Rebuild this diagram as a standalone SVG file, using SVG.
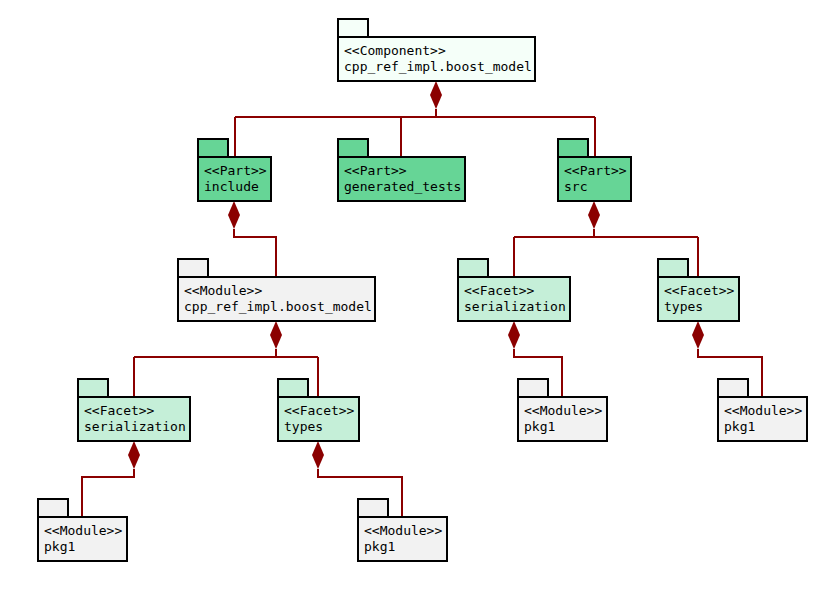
<svg xmlns="http://www.w3.org/2000/svg" width="835" height="589" viewBox="0 0 835 589">
<defs>
<style>
.b{stroke:#000;stroke-width:2}
.comp{fill:#f5fff9}
.part{fill:#66d596}
.facet{fill:#c5efd8}
.mod{fill:#f2f2f2}
text{font-family:"DejaVu Sans Mono",monospace;font-size:13px;fill:#000}
.c{fill:none;stroke:#8b0000;stroke-width:2}
.d{fill:#8b0000;stroke:none}
</style>
</defs>
<rect width="835" height="589" fill="#fff"/>
<g id="connectors">
<path class="c" d="M436,109V117M235,117H595M235,117V157M401,117V157M595,117V157"/>
<path class="d" d="M436,81L442,95L436,109L430,95Z"/>
<path class="c" d="M234,229V237H276V277"/>
<path class="d" d="M234,201L240,215L234,229L228,215Z"/>
<path class="c" d="M594,229V237M514,237H698M514,237V277M698,237V277"/>
<path class="d" d="M594,201L600,215L594,229L588,215Z"/>
<path class="c" d="M276,349V357M134,357H318M134,357V397M318,357V397"/>
<path class="d" d="M276,321L282,335L276,349L270,335Z"/>
<path class="c" d="M134,469V477H82V517"/>
<path class="d" d="M134,441L140,455L134,469L128,455Z"/>
<path class="c" d="M318,469V477H402V517"/>
<path class="d" d="M318,441L324,455L318,469L312,455Z"/>
<path class="c" d="M514,349V357H562V397"/>
<path class="d" d="M514,321L520,335L514,349L508,335Z"/>
<path class="c" d="M698,349V357H762V397"/>
<path class="d" d="M698,321L704,335L698,349L692,335Z"/>
</g>
<g id="component">
<rect class="b comp" x="338" y="19" width="30" height="18"/>
<rect class="b comp" x="338" y="37" width="197" height="44"/>
<text x="344" y="55">&lt;&lt;Component&gt;&gt;</text>
<text x="344" y="71">cpp_ref_impl.boost_model</text>
</g>
<g id="part_include">
<rect class="b part" x="198" y="139" width="30" height="18"/>
<rect class="b part" x="198" y="157" width="73" height="44"/>
<text x="204" y="175">&lt;&lt;Part&gt;&gt;</text>
<text x="204" y="191">include</text>
</g>
<g id="part_generated_tests">
<rect class="b part" x="338" y="139" width="30" height="18"/>
<rect class="b part" x="338" y="157" width="127" height="44"/>
<text x="344" y="175">&lt;&lt;Part&gt;&gt;</text>
<text x="344" y="191">generated_tests</text>
</g>
<g id="part_src">
<rect class="b part" x="558" y="139" width="30" height="18"/>
<rect class="b part" x="558" y="157" width="73" height="44"/>
<text x="564" y="175">&lt;&lt;Part&gt;&gt;</text>
<text x="564" y="191">src</text>
</g>
<g id="module_boost_model">
<rect class="b mod" x="178" y="259" width="30" height="18"/>
<rect class="b mod" x="178" y="277" width="197" height="44"/>
<text x="184" y="295">&lt;&lt;Module&gt;&gt;</text>
<text x="184" y="311">cpp_ref_impl.boost_model</text>
</g>
<g id="facet_src_serialization">
<rect class="b facet" x="458" y="259" width="30" height="18"/>
<rect class="b facet" x="458" y="277" width="112" height="44"/>
<text x="464" y="295">&lt;&lt;Facet&gt;&gt;</text>
<text x="464" y="311">serialization</text>
</g>
<g id="facet_src_types">
<rect class="b facet" x="658" y="259" width="30" height="18"/>
<rect class="b facet" x="658" y="277" width="81" height="44"/>
<text x="664" y="295">&lt;&lt;Facet&gt;&gt;</text>
<text x="664" y="311">types</text>
</g>
<g id="facet_inc_serialization">
<rect class="b facet" x="78" y="379" width="30" height="18"/>
<rect class="b facet" x="78" y="397" width="112" height="44"/>
<text x="84" y="415">&lt;&lt;Facet&gt;&gt;</text>
<text x="84" y="431">serialization</text>
</g>
<g id="facet_inc_types">
<rect class="b facet" x="278" y="379" width="30" height="18"/>
<rect class="b facet" x="278" y="397" width="81" height="44"/>
<text x="284" y="415">&lt;&lt;Facet&gt;&gt;</text>
<text x="284" y="431">types</text>
</g>
<g id="module_src_ser_pkg1">
<rect class="b mod" x="518" y="379" width="30" height="18"/>
<rect class="b mod" x="518" y="397" width="89" height="44"/>
<text x="524" y="415">&lt;&lt;Module&gt;&gt;</text>
<text x="524" y="431">pkg1</text>
</g>
<g id="module_src_types_pkg1">
<rect class="b mod" x="718" y="379" width="30" height="18"/>
<rect class="b mod" x="718" y="397" width="89" height="44"/>
<text x="724" y="415">&lt;&lt;Module&gt;&gt;</text>
<text x="724" y="431">pkg1</text>
</g>
<g id="module_inc_ser_pkg1">
<rect class="b mod" x="38" y="499" width="30" height="18"/>
<rect class="b mod" x="38" y="517" width="89" height="44"/>
<text x="44" y="535">&lt;&lt;Module&gt;&gt;</text>
<text x="44" y="551">pkg1</text>
</g>
<g id="module_inc_types_pkg1">
<rect class="b mod" x="358" y="499" width="30" height="18"/>
<rect class="b mod" x="358" y="517" width="89" height="44"/>
<text x="364" y="535">&lt;&lt;Module&gt;&gt;</text>
<text x="364" y="551">pkg1</text>
</g>
</svg>
